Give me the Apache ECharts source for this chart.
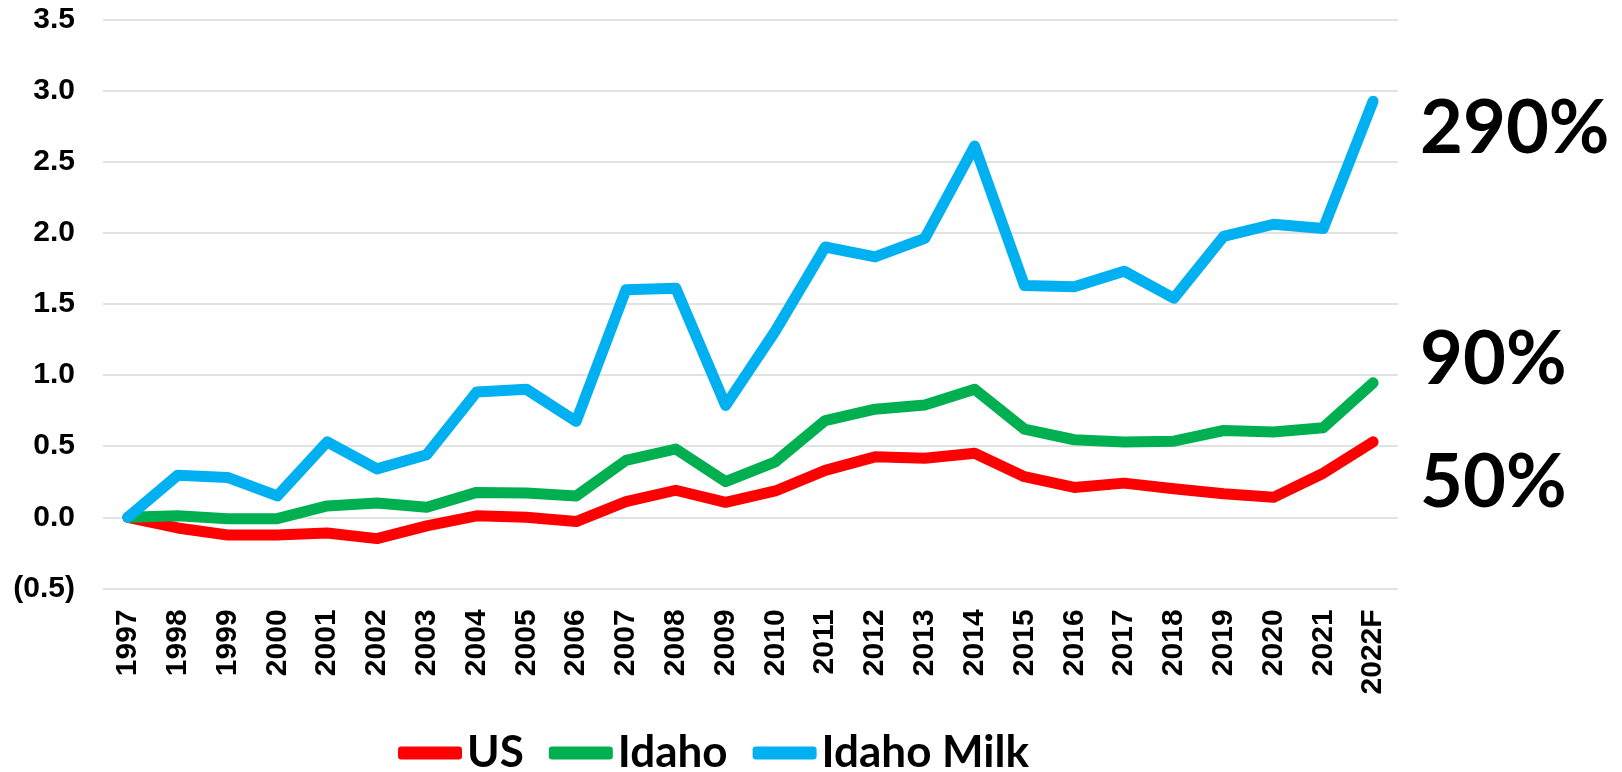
<!DOCTYPE html>
<html>
<head>
<meta charset="utf-8">
<script src="https://cdn.jsdelivr.net/npm/echarts@6/dist/echarts.min.js"></script>
<style>
  html, body { margin: 0; padding: 0; background: #fff; }
  #chart { width: 1622px; height: 772px; }
</style>
</head>
<body>
<div id="chart"></div>
<script>
// categories
const years = ['1997', '1998', '1999', '2000', '2001', '2002', '2003', '2004', '2005', '2006',
  '2007', '2008', '2009', '2010', '2011', '2012', '2013', '2014', '2015', '2016',
  '2017', '2018', '2019', '2020', '2021', '2022F'];

// series values (cumulative change since 1997)
const us = [0, -0.075, -0.125, -0.125, -0.11, -0.15, -0.06, 0.01, 0.0, -0.03,
  0.11, 0.19, 0.105, 0.185, 0.33, 0.425, 0.415, 0.45, 0.285, 0.21,
  0.24, 0.2, 0.165, 0.14, 0.31, 0.53];
const idaho = [0, 0.01, -0.01, -0.01, 0.08, 0.1, 0.07, 0.175, 0.17, 0.15,
  0.4, 0.48, 0.25, 0.39, 0.68, 0.76, 0.79, 0.9, 0.62, 0.545,
  0.53, 0.535, 0.61, 0.6, 0.63, 0.945];
const idahoMilk = [0, 0.295, 0.28, 0.15, 0.53, 0.34, 0.44, 0.88, 0.9, 0.675,
  1.6, 1.61, 0.786, 1.31, 1.9, 1.83, 1.96, 2.61, 1.63, 1.62,
  1.73, 1.54, 1.975, 2.06, 2.03, 2.925];

// notes at the right end of each line
const endNotes = { us: '50%', idaho: '90%', idahoMilk: '290%' };

const chart = echarts.init(document.getElementById('chart'));

const axisFont = {
  color: '#000',
  fontFamily: '"Liberation Sans", Arial, sans-serif',
  fontWeight: 'bold',
  fontSize: 30
};

function lineSeries(name, data, color, note, dy) {
  return {
    name: name,
    type: 'line',
    data: data,
    color: color,
    symbol: 'none',
    lineStyle: { width: 11, color: color, cap: 'round', join: 'round' },
    endLabel: {
      show: true,
      formatter: note,
      distance: 0,
      offset: [47, dy],
      color: '#000',
      fontFamily: 'Lato, sans-serif',
      fontWeight: 'bold',
      fontSize: 74
    }
  };
}

const option = {
  animation: false,
  grid: { left: 103, right: 224, top: 19.4, bottom: 183.6 },
  xAxis: {
    type: 'category',
    data: years,
    boundaryGap: true,
    axisLine: { show: false },
    axisTick: { show: false },
    axisLabel: Object.assign({ rotate: 90, margin: 21, interval: 0 }, axisFont)
  },
  yAxis: {
    type: 'value',
    min: -0.5,
    max: 3.5,
    interval: 0.5,
    axisLine: { show: false },
    axisTick: { show: false },
    splitLine: { lineStyle: { color: '#d9d9d9', width: 1.5 } },
    axisLabel: Object.assign({
      margin: 28,
      formatter: v => v < 0 ? '(' + Math.abs(v).toFixed(1) + ')' : v.toFixed(1)
    }, axisFont)
  },
  legend: {
    left: 393,
    top: 726,
    icon: 'roundRect',
    itemWidth: 64,
    itemHeight: 13,
    itemGap: 25,
    textStyle: {
      color: '#000',
      fontFamily: 'Lato, sans-serif',
      fontWeight: 'bold',
      fontSize: 44
    }
  },
  series: [
    lineSeries('US', us, '#FF0000', endNotes.us, 41),
    lineSeries('Idaho', idaho, '#00B050', endNotes.idaho, -23),
    lineSeries('Idaho Milk', idahoMilk, '#00B0F0', endNotes.idahoMilk, 28)
  ]
};

chart.setOption(option);
</script>
</body>
</html>
